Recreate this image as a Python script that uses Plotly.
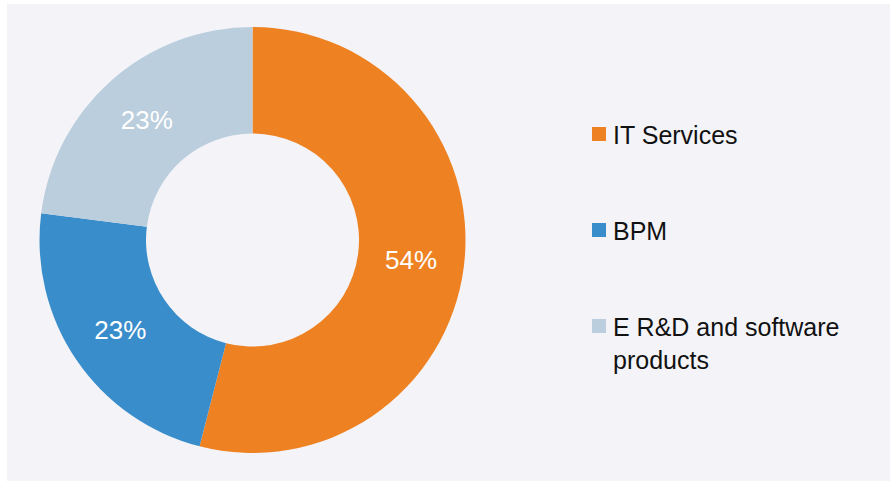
import plotly.graph_objects as go

# Revenue mix by segment
segments = ["IT Services", "BPM", "E R&D and software products"]
legend_text = ["IT Services", "BPM", "E R&D and software<br>products"]
shares = [54, 23, 23]
colors = ["#EE8223", "#3A8DCB", "#BBCEDD"]

W, H = 890, 481
FONT = "Liberation Sans, Arial, Helvetica, sans-serif"

fig = go.Figure()

fig.add_trace(go.Pie(
    labels=segments,
    values=shares,
    hole=0.5,
    sort=False,
    direction="clockwise",
    rotation=0,
    marker=dict(colors=colors, line=dict(width=0)),
    texttemplate="%{value}%",
    textposition="inside",
    insidetextorientation="horizontal",
    textfont=dict(family=FONT, size=26, color="white"),
    domain=dict(x=[39 / W, 466 / W], y=[(H - 453) / H, (H - 27) / H]),
    showlegend=False,
    hoverinfo="label+percent",
))

# Light panel behind the chart
shapes = [dict(type="rect", xref="paper", yref="paper",
               x0=7 / W, x1=1, y0=0, y1=(H - 4) / H,
               fillcolor="#F4F4F8", line=dict(width=0), layer="below")]
annotations = []

# Hand-placed legend: square swatch plus label for each segment
sq_left, sq_size, text_left = 592, 14, 611
first_top, step = 127, 96
for i, (name, col) in enumerate(zip(legend_text, colors)):
    top = first_top + i * step
    shapes.append(dict(type="rect", xref="paper", yref="paper",
                       x0=sq_left / W, x1=(sq_left + sq_size) / W,
                       y0=(H - top - sq_size) / H, y1=(H - top) / H,
                       fillcolor=col, line=dict(width=0)))
    annotations.append(dict(xref="paper", yref="paper",
                            x=text_left / W, y=(H - top + 8) / H,
                            xanchor="left", yanchor="top", align="left",
                            text=name, showarrow=False,
                            font=dict(family=FONT, size=25, color="#111111")))

fig.update_layout(
    width=W, height=H,
    margin=dict(l=0, r=0, t=0, b=0),
    paper_bgcolor="white",
    shapes=shapes,
    annotations=annotations,
)

fig.write_html("out.html")
